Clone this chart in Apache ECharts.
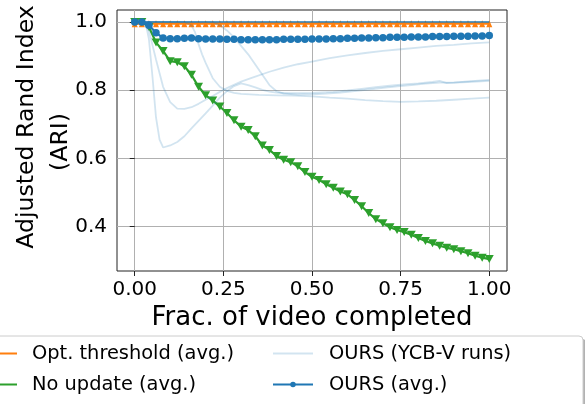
<!DOCTYPE html>
<html><head><meta charset="utf-8">
<script src="https://cdn.jsdelivr.net/npm/echarts@6/dist/echarts.min.js"></script>
<style>html,body{margin:0;padding:0;background:#fff}#c{width:585px;height:404px}</style>
</head><body><div id="c"></div>
<script>
// ---- data ----
const xFrac = [0.00,0.02,0.04,0.06,0.08,0.10,0.12,0.14,0.16,0.18,0.20,0.22,0.24,0.26,0.28,0.30,0.32,0.34,0.36,0.38,0.40,0.42,0.44,0.46,0.48,0.50,0.52,0.54,0.56,0.58,0.60,0.62,0.64,0.66,0.68,0.70,0.72,0.74,0.76,0.78,0.80,0.82,0.84,0.86,0.88,0.90,0.92,0.94,0.96,0.98,1.00];
const optThreshold = [0.995,0.995,0.995,0.995,0.995,0.995,0.995,0.995,0.995,0.995,0.995,0.995,0.995,0.995,0.995,0.995,0.995,0.995,0.995,0.995,0.995,0.995,0.995,0.995,0.995,0.995,0.995,0.995,0.995,0.995,0.995,0.995,0.995,0.995,0.995,0.995,0.995,0.995,0.995,0.995,0.995,0.995,0.995,0.995,0.995,0.995,0.995,0.995,0.995,0.995,0.995];
const noUpdate = [1.0,1.0,0.985,0.94,0.915,0.885,0.882,0.870,0.845,0.810,0.785,0.770,0.752,0.733,0.712,0.693,0.683,0.665,0.638,0.625,0.607,0.596,0.589,0.577,0.560,0.546,0.537,0.524,0.514,0.503,0.495,0.478,0.460,0.440,0.422,0.410,0.398,0.390,0.384,0.376,0.367,0.358,0.351,0.344,0.338,0.334,0.328,0.322,0.315,0.309,0.305];
const oursAvg = [1.0,1.0,0.99,0.968,0.953,0.951,0.951,0.952,0.953,0.951,0.950,0.950,0.950,0.949,0.949,0.948,0.948,0.948,0.948,0.948,0.948,0.949,0.949,0.949,0.949,0.950,0.950,0.950,0.951,0.951,0.952,0.952,0.953,0.953,0.954,0.954,0.955,0.955,0.955,0.956,0.956,0.956,0.957,0.957,0.957,0.958,0.958,0.958,0.959,0.959,0.960];
// individual YCB-V runs, [frac, ARI]
const runA = [[0,1],[0.03,1],[0.04,0.95],[0.05,0.84],[0.06,0.72],[0.07,0.655],[0.08,0.632],[0.10,0.638],[0.12,0.648],[0.14,0.665],[0.16,0.688],[0.18,0.71],[0.20,0.732],[0.22,0.755],[0.24,0.778],[0.26,0.797],[0.28,0.812],[0.30,0.82],[0.32,0.815],[0.34,0.808],[0.36,0.801],[0.38,0.796],[0.40,0.793],[0.44,0.791],[0.50,0.792],[0.56,0.795],[0.60,0.799],[0.64,0.804],[0.68,0.809],[0.72,0.813],[0.76,0.817],[0.80,0.82],[0.84,0.824],[0.86,0.827],[0.88,0.821],[0.90,0.822],[0.94,0.826],[0.98,0.829],[1.0,0.83]];
const runB = [[0,1],[0.02,1],[0.04,0.975],[0.06,0.89],[0.08,0.81],[0.10,0.765],[0.12,0.746],[0.14,0.745],[0.16,0.75],[0.18,0.76],[0.20,0.772],[0.22,0.783],[0.24,0.795],[0.26,0.806],[0.28,0.816],[0.30,0.825],[0.34,0.84],[0.38,0.854],[0.42,0.866],[0.46,0.876],[0.50,0.884],[0.55,0.894],[0.60,0.902],[0.65,0.909],[0.70,0.915],[0.75,0.92],[0.80,0.925],[0.85,0.93],[0.90,0.933],[0.95,0.937],[1.0,0.94]];
const runC = [[0,1],[0.14,1],[0.16,0.99],[0.17,0.97],[0.18,0.935],[0.19,0.905],[0.20,0.88],[0.22,0.835],[0.24,0.81],[0.26,0.798],[0.28,0.792],[0.30,0.789],[0.35,0.786],[0.40,0.785],[0.45,0.784],[0.50,0.782],[0.55,0.778],[0.60,0.775],[0.65,0.771],[0.70,0.768],[0.75,0.766],[0.80,0.767],[0.85,0.769],[0.90,0.772],[0.95,0.775],[1.0,0.778]];
const runD = [[0,1],[0.22,1],[0.24,0.99],[0.26,0.975],[0.28,0.955],[0.30,0.93],[0.32,0.905],[0.34,0.875],[0.36,0.845],[0.38,0.815],[0.40,0.797],[0.42,0.79],[0.46,0.787],[0.50,0.788],[0.54,0.79],[0.58,0.793],[0.62,0.797],[0.66,0.802],[0.70,0.807],[0.74,0.811],[0.78,0.815],[0.82,0.819],[0.86,0.822],[0.90,0.822],[0.94,0.824],[1.0,0.827]];
const runPerfect = [[0,1],[1,1]];
const perfectRunCount = 6;
const xTicks = [0, 0.25, 0.5, 0.75, 1.0];
const yTicks = [0.4, 0.6, 0.8, 1.0];

// ---- chart ----
const FONT = 'DejaVu Sans';
const RUN_COLOR = 'rgba(31,119,180,0.2)';
const LINE_ICON = 'path://M0,0H40V2.2H0Z';
const LINE_DOT_ICON = 'path://M0,5.9H40V8.1H0Z M22.8,7A2.8,2.8 0 1 1 17.2,7A2.8,2.8 0 1 1 22.8,7Z';
const pairs = (ys) => xFrac.map((x, i) => [x, ys[i]]);

const runSeries = [runA, runB, runC, runD];
for (let k = 0; k < perfectRunCount; k++) runSeries.push(runPerfect);

const series = [
  { name: 'Opt. threshold (avg.)', type: 'line', data: pairs(optThreshold),
    color: '#ff7f0e', lineStyle: { width: 2.3, color: '#ff7f0e' }, itemStyle: { color: '#ff7f0e' },
    symbol: 'triangle', symbolSize: [6, 7], showSymbol: true, z: 2 },
  { name: 'No update (avg.)', type: 'line', data: pairs(noUpdate),
    color: '#2ca02c', lineStyle: { width: 2.2, color: '#2ca02c' }, itemStyle: { color: '#2ca02c' },
    symbol: 'triangle', symbolRotate: 180, symbolSize: [9, 8], showSymbol: true, z: 3 }
];
runSeries.forEach(r => series.push({
  name: 'OURS (YCB-V runs)', type: 'line', data: r, symbol: 'none',
  color: RUN_COLOR, lineStyle: { width: 1.8, color: RUN_COLOR }, itemStyle: { color: RUN_COLOR }, z: 4
}));
series.push({ name: 'OURS (avg.)', type: 'line', data: pairs(oursAvg),
  color: '#1f77b4', lineStyle: { width: 2.2, color: '#1f77b4' }, itemStyle: { color: '#1f77b4' },
  symbol: 'circle', symbolSize: 7.5, showSymbol: true, z: 5 });

const legendText = { fontFamily: FONT, fontSize: 19.4, color: '#000' };
const chart = echarts.init(document.getElementById('c'), null, { renderer: 'canvas' });
chart.setOption({
  animation: false,
  backgroundColor: '#fff',
  grid: { left: 117, right: 78, top: 10, bottom: 133, show: true, borderColor: '#222', borderWidth: 1, backgroundColor: 'transparent' },
  xAxis: {
    type: 'value', min: -0.05, max: 1.05,
    name: 'Frac. of video completed', nameLocation: 'middle', nameGap: 31,
    nameTextStyle: { fontFamily: FONT, fontSize: 26, color: '#000' },
    axisLine: { show: false },
    axisTick: { show: true, inside: false, length: 5, customValues: xTicks, lineStyle: { color: '#222', width: 1 } },
    axisLabel: { customValues: xTicks, formatter: v => v.toFixed(2), fontFamily: FONT, fontSize: 20, color: '#000', margin: 9 },
    splitLine: { show: true, lineStyle: { color: '#b0b0b0', width: 1 } }
  },
  yAxis: {
    type: 'value', min: 0.27, max: 1.035,
    axisLine: { show: false },
    axisTick: { show: true, inside: false, length: 5, customValues: yTicks, lineStyle: { color: '#222', width: 1 } },
    axisLabel: { customValues: yTicks, formatter: v => v.toFixed(1), fontFamily: FONT, fontSize: 20, color: '#000', margin: 10 },
    splitLine: { show: true, lineStyle: { color: '#b0b0b0', width: 1 } }
  },
  legend: [
    { left: -23, top: 344, orient: 'vertical', itemWidth: 40, itemHeight: 14, itemGap: 12, padding: 0,
      selectedMode: false, textStyle: Object.assign({ padding: [0, 0, 0, 10] }, legendText),
      data: [{ name: 'Opt. threshold (avg.)', icon: LINE_ICON }, { name: 'No update (avg.)', icon: LINE_ICON }] },
    { left: 273, top: 344, orient: 'vertical', itemWidth: 40, itemHeight: 14, itemGap: 12, padding: 0,
      selectedMode: false, textStyle: Object.assign({ padding: [0, 0, 0, 11] }, legendText),
      data: [{ name: 'OURS (YCB-V runs)', icon: LINE_ICON }, { name: 'OURS (avg.)', icon: LINE_DOT_ICON }] }
  ],
  graphic: [
    { type: 'rect', silent: true, z: 0, shape: { x: -7, y: 339, width: 593, height: 90, r: 4 }, style: { fill: 'rgba(0,0,0,0.3)' } },
    { type: 'rect', silent: true, z: 1, shape: { x: -10, y: 336, width: 593, height: 90, r: 4 }, style: { fill: '#fff', stroke: '#cccccc', lineWidth: 1 } },
    { type: 'text', silent: true, x: 27, y: 127, rotation: Math.PI / 2,
      style: { text: 'Adjusted Rand Index', fontFamily: FONT, fontSize: 23.6, fill: '#000', align: 'center', verticalAlign: 'middle' } },
    { type: 'text', silent: true, x: 61, y: 142, rotation: Math.PI / 2,
      style: { text: '(ARI)', fontFamily: FONT, fontSize: 23.6, fill: '#000', align: 'center', verticalAlign: 'middle' } }
  ],
  series: series
});
</script></body></html>
